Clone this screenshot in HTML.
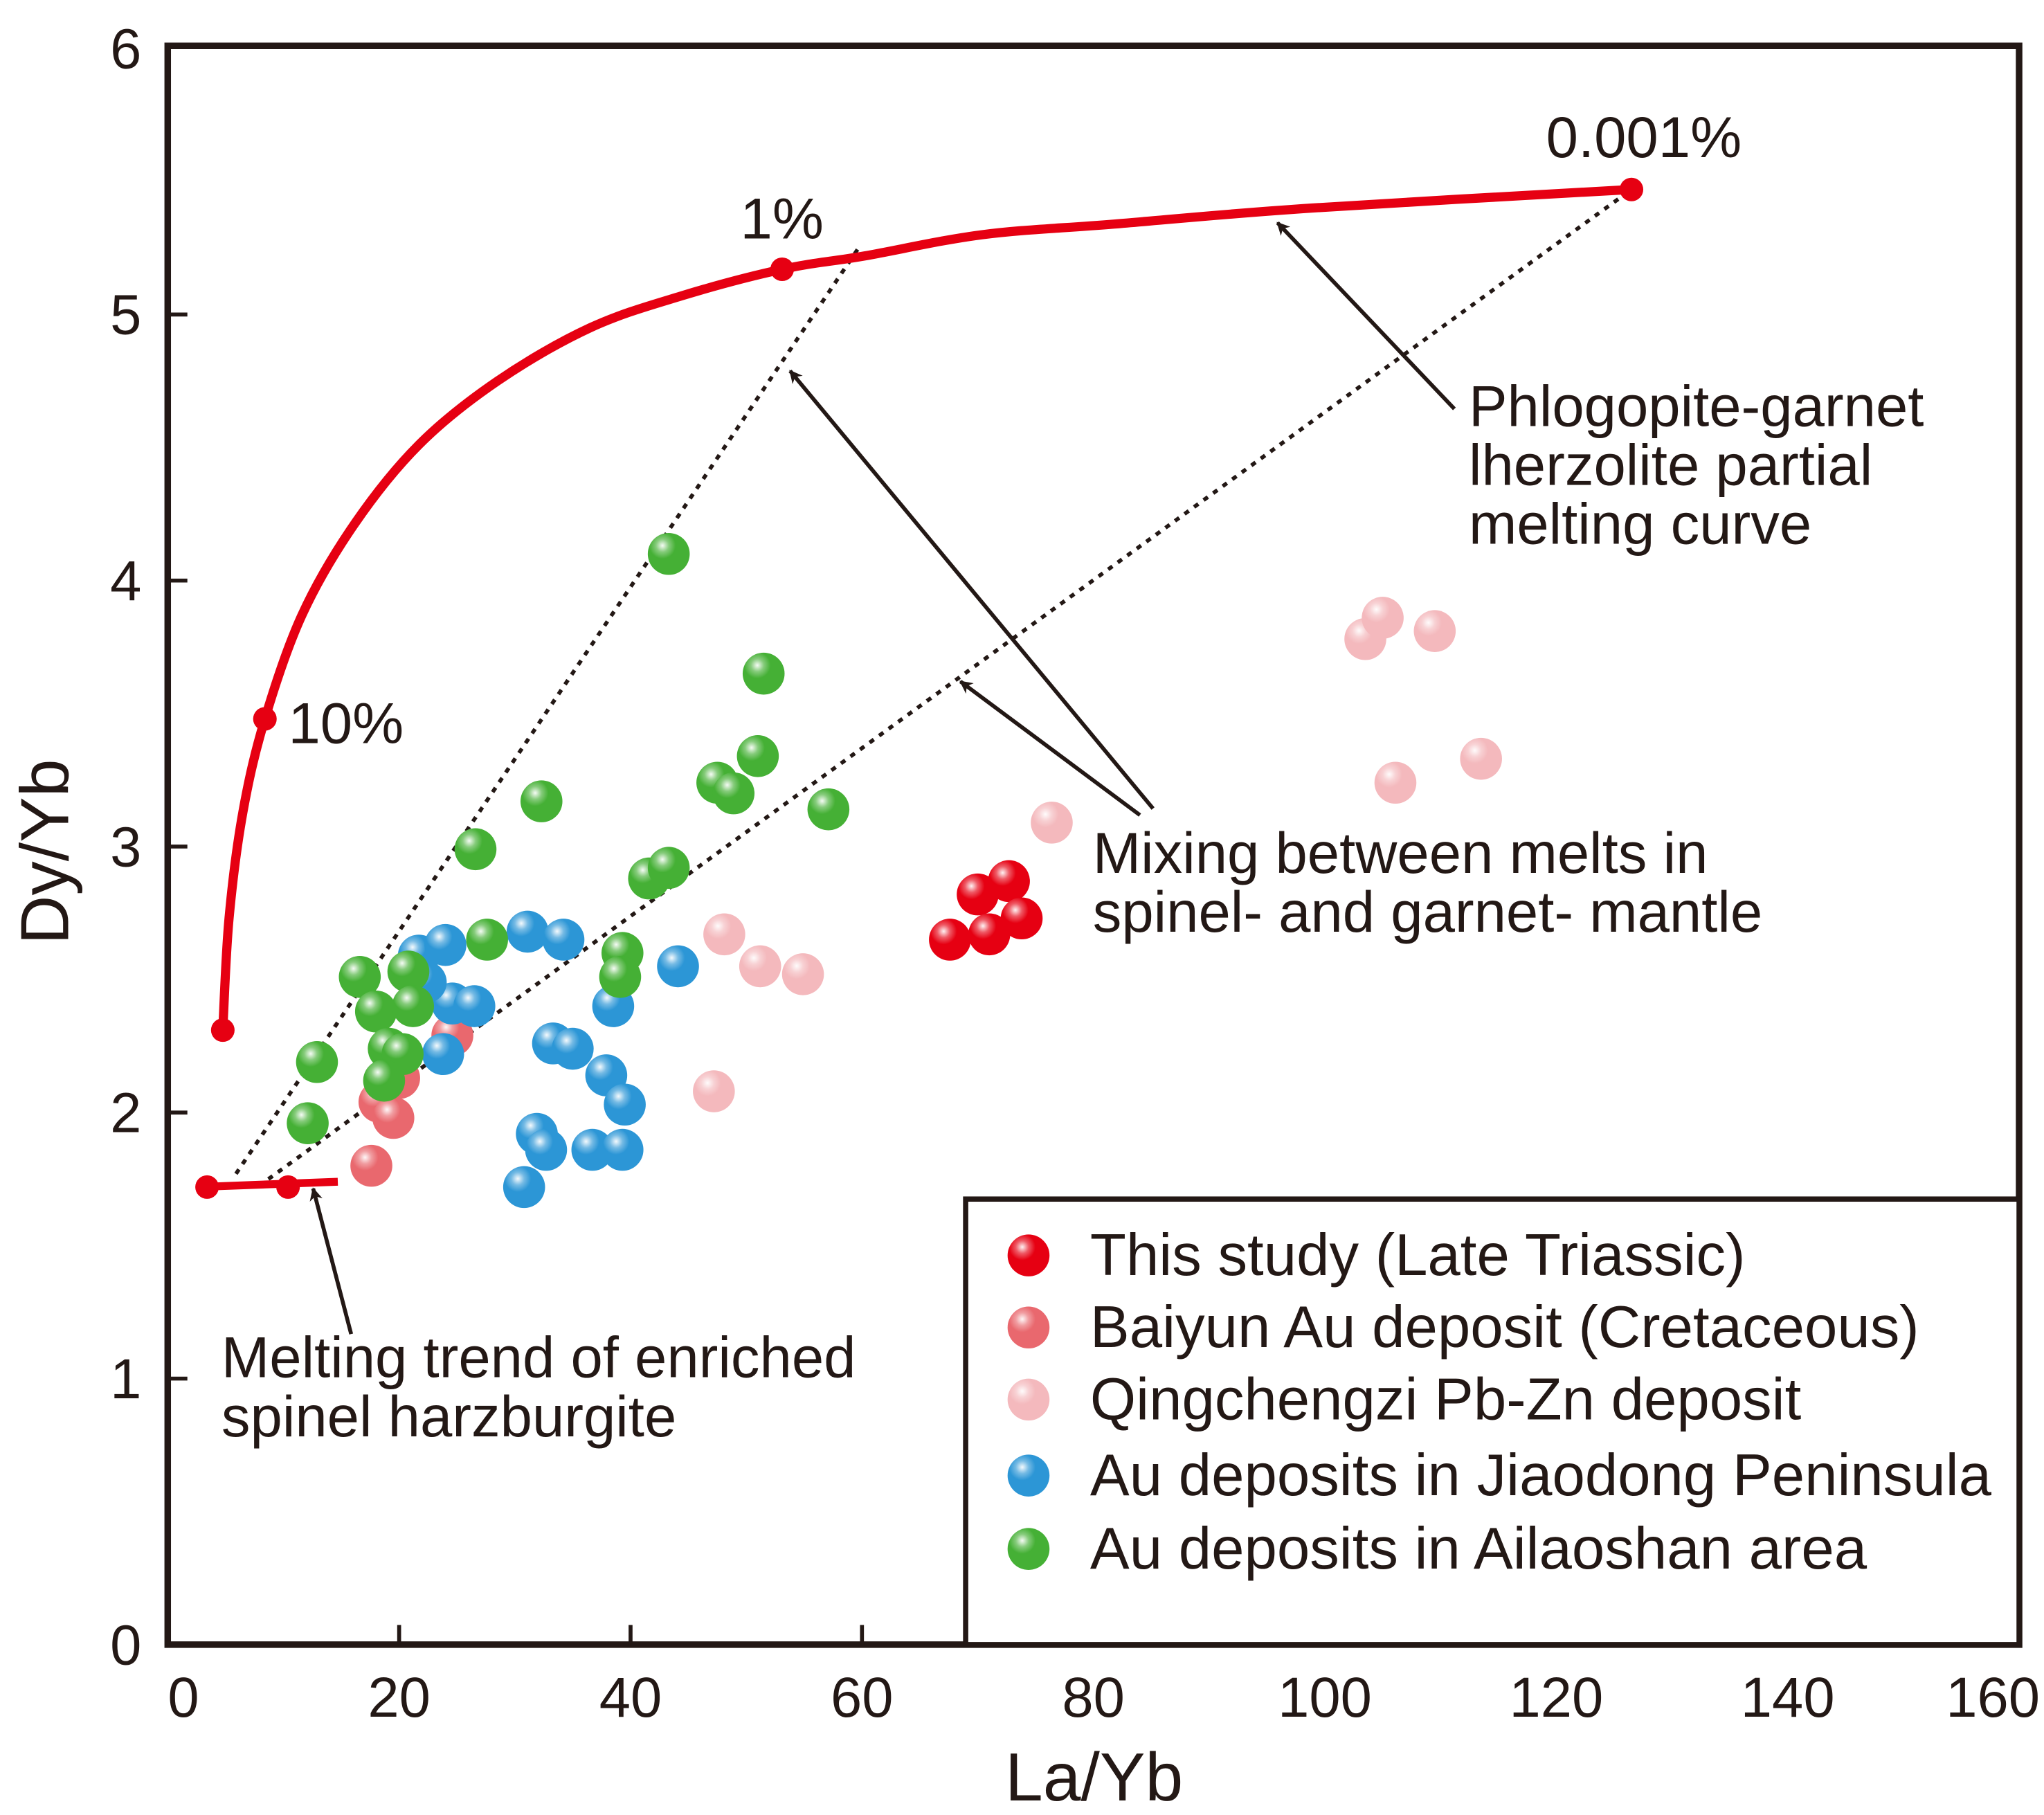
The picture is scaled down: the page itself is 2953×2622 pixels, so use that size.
<!DOCTYPE html>
<html><head><meta charset="utf-8"><style>
html,body{margin:0;padding:0;background:#fff}
svg{display:block}
text{font-family:"Liberation Sans",Arial,sans-serif;fill:#231815}
</style></head><body>
<svg id="chart" width="2953" height="2622" viewBox="0 0 1560 1385" preserveAspectRatio="none" xmlns="http://www.w3.org/2000/svg">
<defs>
<radialGradient id="hl" cx="0.35" cy="0.3" r="0.7">
<stop offset="0" stop-color="#fff" stop-opacity="0.95"/>
<stop offset="0.22" stop-color="#fff" stop-opacity="0.35"/>
<stop offset="0.45" stop-color="#fff" stop-opacity="0"/>
</radialGradient>
<marker id="ah" markerWidth="10" markerHeight="10" refX="9" refY="5" orient="auto" markerUnits="userSpaceOnUse">
<path d="M0,0 L10,5 L0,10 L3,5 Z" fill="#231815"/>
</marker>
</defs>
<g id="plot"></g>
</svg>
<script>
const xTicks=[0,20,40,60,80,100,120,140,160];
const yTicks=[0,1,2,3,4,5,6];
const meltCurveX=[4.76,5.3,6.5,8.4,11.6,16.1,21.7,28.5,36.5,44.4,53.1,60.2,70.4,81.8,98.8,126.5];
const meltCurveY=[2.31,2.73,3.13,3.48,3.87,4.21,4.51,4.75,4.95,5.07,5.17,5.22,5.30,5.34,5.40,5.47];
const meltDotX=[4.76,8.4,53.1,126.5];
const meltDotY=[2.31,3.48,5.17,5.47];
const spinelX=[2.5,14.7];
const spinelY=[1.72,1.74];
const spinelDotX=[3.4,10.4];
const spinelDotY=[1.72,1.72];
const mix1X=[5.9,59.7]; const mix1Y=[1.77,5.25];
const mix2X=[8.7,126.5]; const mix2Y=[1.75,5.47];
const thisX=[67.6,70,72.7,71,73.8];
const thisY=[2.65,2.82,2.87,2.67,2.73];
const baiyunX=[17.6,18.3,19.5,20,24.6];
const baiyunY=[1.80,2.04,1.98,2.13,2.29];
const qingX=[103.5,105,109.5,106.1,113.5,76.4,48.1,51.2,54.9,47.2];
const qingY=[3.78,3.86,3.81,3.24,3.33,3.09,2.67,2.55,2.52,2.08];
const jiaoX=[21.7,24,24.6,26.5,23.8,31.1,34.2,38.5,44.1,33.3,35,37.9,39.5,31.9,32.7,30.8,36.7,39.3,22.3];
const jiaoY=[2.59,2.63,2.41,2.40,2.22,2.68,2.65,2.40,2.55,2.26,2.24,2.14,2.03,1.92,1.86,1.72,1.86,1.86,2.49];
const ailaoX=[43.3,51.5,51,47.5,48.9,57.1,26.6,32.3,41.6,43.3,39.3,39.1,27.6,16.6,20.8,18,21.2,19.1,20.3,18.7,12.9,12.1];
const ailaoY=[4.10,3.65,3.34,3.24,3.20,3.14,2.99,3.17,2.88,2.92,2.60,2.51,2.65,2.51,2.53,2.38,2.40,2.24,2.22,2.12,2.19,1.96];

const X0=128,X1=1541,Y0=1255,Y1=37;
function sx(v){return X0+(v-0)/(160-0)*(X1-X0);}
function sy(v){return Y0-(v-0)/(6-0)*(Y0-Y1);}
const NS="http://www.w3.org/2000/svg";
const g=document.getElementById('plot');
function mk(tag,attrs,parent){const e=document.createElementNS(NS,tag);for(const k in attrs)e.setAttribute(k,attrs[k]);(parent||g).appendChild(e);return e;}
function txt(x,y,s,size,anchor,name){const t=mk('text',{x:x,y:y,'font-size':size,'text-anchor':anchor||'start'});t.textContent=s;


return t;}

const frame=mk('rect',{x:X0,y:35,width:X1-X0,height:Y0-35,fill:'none',stroke:'#231815','stroke-width':5});


xTicks.forEach(v=>{
 if(v>0&&v<160){const l=mk('line',{x1:sx(v),x2:sx(v),y1:Y0,y2:Y0-15,stroke:'#231815','stroke-width':3});
 
 }
 let off=v===0?12:(v===160?-20:0);
 txt(sx(v)+off,1310,String(v),43,'middle','x-tick-label');
});
yTicks.forEach(v=>{
 if(v>0&&v<6){const l=mk('line',{x1:X0,x2:X0+15,y1:sy(v),y2:sy(v),stroke:'#231815','stroke-width':3});
 
 }
 txt(108,sy(v)+15,String(v),43,'end','y-tick-label');
});
txt(835,1374,'La/Yb',52,'middle','x-axis-title');
const yt=txt(0,0,'Dy/Yb',52,'middle','y-axis-title');
yt.setAttribute('transform','translate(52,650) rotate(-90)');

function line2(xs,ys,attrs,name){const l=mk('line',Object.assign({x1:sx(xs[0]),y1:sy(ys[0]),x2:sx(xs[1]),y2:sy(ys[1])},attrs));

return l;}
line2(mix1X,mix1Y,{stroke:'#231815','stroke-width':3,'stroke-dasharray':'4 5'},'mixing-line-1');
line2(mix2X,mix2Y,{stroke:'#231815','stroke-width':3,'stroke-dasharray':'4 5'},'mixing-line-2');

// smooth melting curve (Catmull-Rom)
const P=meltCurveX.map((v,i)=>[sx(v),sy(meltCurveY[i])]);
let d='M'+P[0][0]+','+P[0][1];
for(let i=0;i<P.length-1;i++){
 const p0=P[Math.max(0,i-1)],p1=P[i],p2=P[i+1],p3=P[Math.min(P.length-1,i+2)];
 const c1=[p1[0]+(p2[0]-p0[0])/6,p1[1]+(p2[1]-p0[1])/6];
 const c2=[p2[0]-(p3[0]-p1[0])/6,p2[1]-(p3[1]-p1[1])/6];
 d+=' C'+c1[0]+','+c1[1]+' '+c2[0]+','+c2[1]+' '+p2[0]+','+p2[1];
}
const mc=mk('path',{d:d,fill:'none',stroke:'#e60012','stroke-width':7,'stroke-linejoin':'round'});


meltDotX.forEach((v,i)=>{const c=mk('circle',{cx:sx(v),cy:sy(meltDotY[i]),r:9,fill:'#e60012'});

});
line2(spinelX,spinelY,{stroke:'#e60012','stroke-width':6},'spinel-harzburgite-melting-line');
spinelDotX.forEach((v,i)=>{const c=mk('circle',{cx:sx(v),cy:sy(spinelDotY[i]),r:9,fill:'#e60012'});

});

function arrow(x1,y1,x2,y2,name){const a=mk('line',{x1:x1,y1:y1,x2:x2,y2:y2,stroke:'#231815','stroke-width':3,'marker-end':'url(#ah)'});

}
arrow(1110,312,975,170,'arrow-melting-curve');
arrow(880,617,603,283,'arrow-mixing-1');
arrow(870,622,733,520,'arrow-mixing-2');
arrow(268,1018,239,907,'arrow-spinel-trend');

function sphere(cx,cy,col,name){const gg=mk('g',{});


mk('circle',{cx:cx,cy:cy,r:16,fill:col},gg);mk('circle',{cx:cx,cy:cy,r:16,fill:'url(#hl)'},gg);}
function series(xs,ys,col,name){xs.forEach((v,i)=>sphere(sx(v),sy(ys[i]),col,name));}
series(baiyunX,baiyunY,'#e9686e','point-baiyun');
series(qingX,qingY,'#f4b9bd','point-qingchengzi');
series(jiaoX,jiaoY,'#2c96d6','point-jiaodong');
series(ailaoX,ailaoY,'#45b035','point-ailaoshan');
series(thisX,thisY,'#e60012','point-this-study');

txt(1180,120,'0.001%',44,'start','label-0-001-percent');
txt(565,182,'1%',44,'start','label-1-percent');
txt(220,567,'10%',44,'start','label-10-percent');
['Phlogopite-garnet','lherzolite partial','melting curve'].forEach((s,i)=>txt(1121,325+i*45,s,44,'start','melting-curve-annotation'));
['Mixing between melts in','spinel- and garnet- mantle'].forEach((s,i)=>txt(834,666+i*45,s,44,'start','mixing-annotation'));
['Melting trend of enriched','spinel harzburgite'].forEach((s,i)=>txt(169,1051+i*45,s,44,'start','spinel-trend-annotation'));

const lg=mk('rect',{x:737,y:915,width:X1-737,height:Y0-915,fill:'#fff',stroke:'#231815','stroke-width':4});


const legCols=['#e60012','#e9686e','#f4b9bd','#2c96d6','#45b035'];
const legText=['This study (Late Triassic)','Baiyun Au deposit (Cretaceous)','Qingchengzi Pb-Zn deposit','Au deposits in Jiaodong Peninsula','Au deposits in Ailaoshan area'];
const legY=[958,1013,1068,1126,1182];
legText.forEach((s,i)=>{sphere(785,legY[i],legCols[i],'legend-marker');txt(832,legY[i]+15,s,45,'start','legend-entry');});
</script>
</body></html>
